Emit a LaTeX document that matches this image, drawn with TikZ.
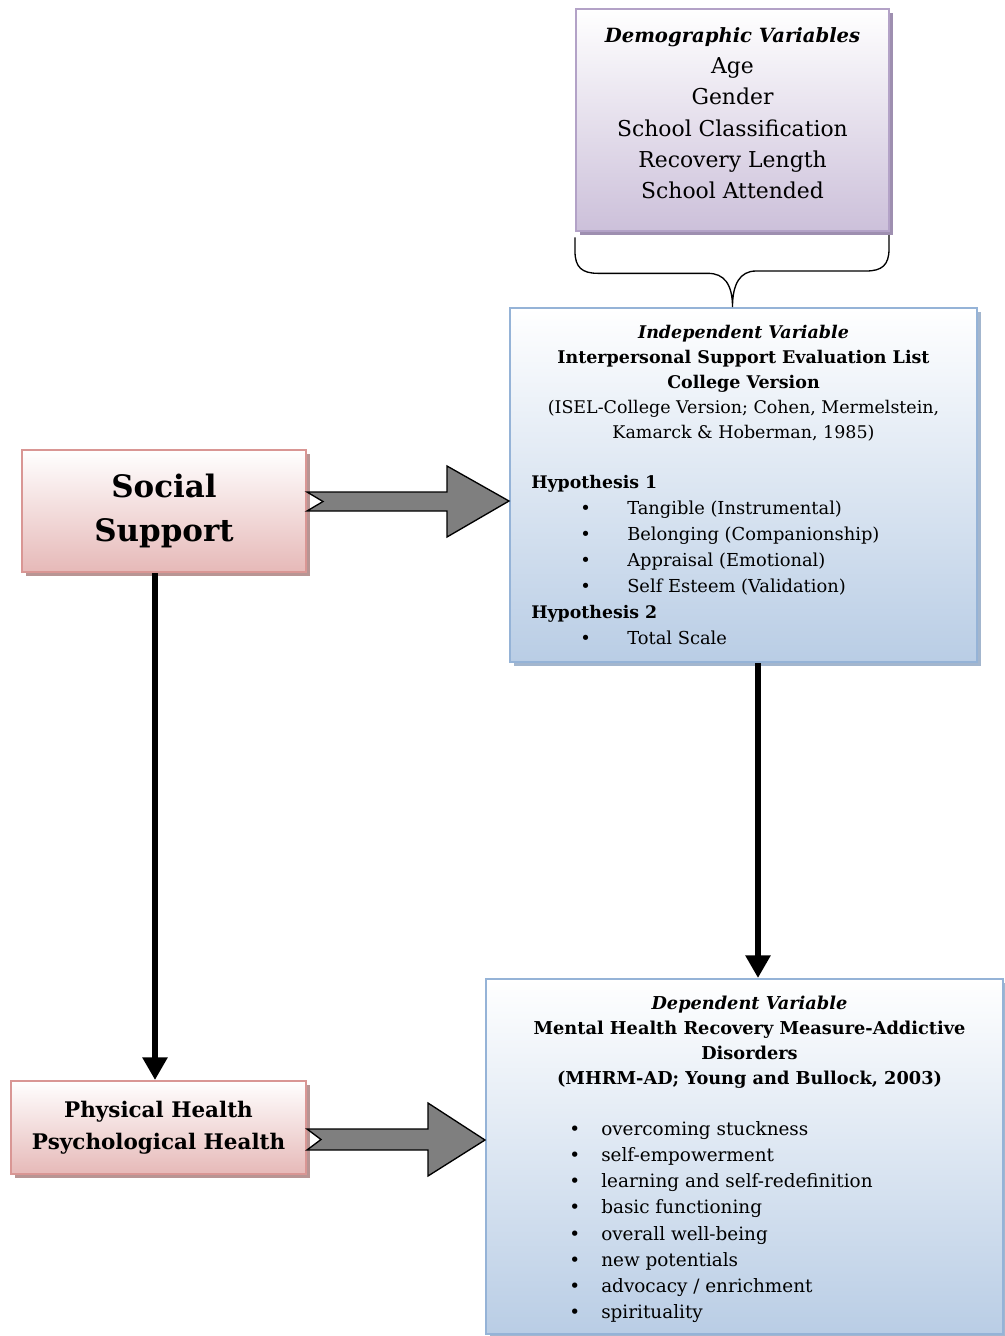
\documentclass[tikz,border=0pt]{standalone}
\usepackage{fontspec}
\setmainfont{DejaVu Serif}
\usepackage{xcolor}
\usetikzlibrary{arrows.meta, positioning, shadows}

\definecolor{demoedge}{HTML}{B3A2C7}
\definecolor{demofill}{HTML}{CCC0DA}
\definecolor{demoshade}{HTML}{9E8FB0}
\definecolor{varedge}{HTML}{95B3D7}
\definecolor{varfill}{HTML}{B9CDE5}
\definecolor{varshade}{HTML}{A3B6CE}
\definecolor{factedge}{HTML}{D99694}
\definecolor{factfill}{HTML}{E6B9B8}
\definecolor{factshade}{HTML}{B89594}
\definecolor{arrowgray}{HTML}{7F7F7F}

\begin{document}
\begin{tikzpicture}[
x=0.75pt,
y=-0.75pt,
box/.style={
rectangle,
line width=1.5pt,
top color=white,
inner sep=0pt,
align=center
},
demobox/.style={
box,
draw=demoedge,
bottom color=demofill,
drop shadow={shadow xshift=3pt, shadow yshift=-3pt, fill=demoshade, opacity=1}
},
varbox/.style={
box,
draw=varedge,
bottom color=varfill,
drop shadow={shadow xshift=3pt, shadow yshift=-3pt, fill=varshade, opacity=1}
},
factbox/.style={
box,
draw=factedge,
bottom color=factfill,
drop shadow={shadow xshift=3pt, shadow yshift=-3pt, fill=factshade, opacity=1}
},
fatarrow/.style={
draw=black,
line width=1pt,
fill=arrowgray,
line join=miter
},
arrow/.style={
line width=5pt,
-{Triangle[width=18pt,length=17pt]}
},
bracket/.style={
line width=1pt
},
txt/.style={
inner sep=0pt,
align=center
}
]

\useasboundingbox (0,0) rectangle (1005,1336);

\node[demobox, minimum width=234.75pt, minimum height=166.5pt] (demo) at (732.5,120) {};

\node[txt, below=14.5pt of demo.north, font=\fontsize{16.4}{23.4}\selectfont] (demohead)
{{\fontsize{14.7}{23.4}\selectfont\textbf{\textit{Demographic Variables}}}\\
Age\\
Gender\\
School Classification\\
Recovery Length\\
School Attended};

\node[varbox, minimum width=350.25pt, minimum height=265.5pt] (ind) at (743.5,485) {};

\node[txt, below=13.5pt of ind.north, font=\fontsize{13.1}{18.75}\selectfont] (indhead)
{\textbf{\textit{Independent Variable}}\\
\textbf{Interpersonal Support Evaluation List}\\
\textbf{College Version}\\
(ISEL-College Version; Cohen, Mermelstein,\\
Kamarck \& Hoberman, 1985)};

\node[inner sep=0pt, anchor=north west, font=\fontsize{13.4}{19.5}\selectfont] (indlist) at (531,470)
{\begin{tabular}{@{}p{36.75pt}@{}p{35.25pt}@{}l@{}}
\multicolumn{3}{@{}l}{\fontsize{13}{19.5}\selectfont\textbf{Hypothesis 1}}\\
& \textbullet & Tangible (Instrumental)\\
& \textbullet & Belonging (Companionship)\\
& \textbullet & Appraisal (Emotional)\\
& \textbullet & Self Esteem (Validation)\\
\multicolumn{3}{@{}l}{\fontsize{13}{19.5}\selectfont\textbf{Hypothesis 2}}\\
& \textbullet & Total Scale
\end{tabular}};

\node[factbox, minimum width=213pt, minimum height=91.5pt,
font=\fontsize{23.2}{33}\selectfont\bfseries] (soc) at (164,511)
{Social\\
Support};

\node[factbox, minimum width=221.25pt, minimum height=69.75pt,
font=\fontsize{16.1}{24}\selectfont\bfseries] (phys) at (158.5,1127.5)
{Physical Health\\
Psychological Health};

\node[varbox, minimum width=387.75pt, minimum height=266.25pt] (dep) at (744.5,1156.5) {};

\node[txt, below=13.5pt of dep.north, xshift=3.75pt, font=\fontsize{13.3}{18.75}\selectfont\bfseries] (dephead)
{\textit{Dependent Variable}\\
Mental Health Recovery Measure-Addictive\\
Disorders\\
(MHRM-AD; Young and Bullock, 2003)};

\node[inner sep=0pt, anchor=north west, font=\fontsize{13.8}{19.6}\selectfont] (deplist) at (569,1117)
{\begin{tabular}{@{}p{24pt}@{}l@{}}
\textbullet & overcoming stuckness\\
\textbullet & self-empowerment\\
\textbullet & learning and self-redefinition\\
\textbullet & basic functioning\\
\textbullet & overall well-being\\
\textbullet & new potentials\\
\textbullet & advocacy / enrichment\\
\textbullet & spirituality
\end{tabular}};

\draw[bracket] ([yshift=-4pt]demo.south west) -- ++(0,14)
.. controls +(0,16) and +(-16,0) .. ++(23,22) -- ++(110,0)
.. controls +(16,0) and +(0,-23) .. (demo.south |- ind.north)
.. controls +(0,-23) and +(-16,0) .. ++(23.5,-36) -- ++(110,0)
.. controls +(16,0) and +(0,16) .. ++(23,-22) -- ++(0,-14);

\draw[fatarrow] (soc.east |- 0,492) -- (447,492) -- (447,466) -- (ind.west |- 0,501)
-- (447,537) -- (447,511) -- (soc.east |- 0,511) -- (323,501.5) -- cycle;

\draw[fatarrow] (phys.east |- 0,1129) -- (428,1129) -- (428,1103) -- (dep.west |- 0,1140)
-- (428,1176) -- (428,1150) -- (phys.east |- 0,1150) -- (321,1139.5) -- cycle;

\draw[arrow] (soc.south -| 155,0) -- (phys.north -| 155,0);
\draw[arrow] (ind.south -| 758,0) -- (dep.north -| 758,0);

\end{tikzpicture}
\end{document}
